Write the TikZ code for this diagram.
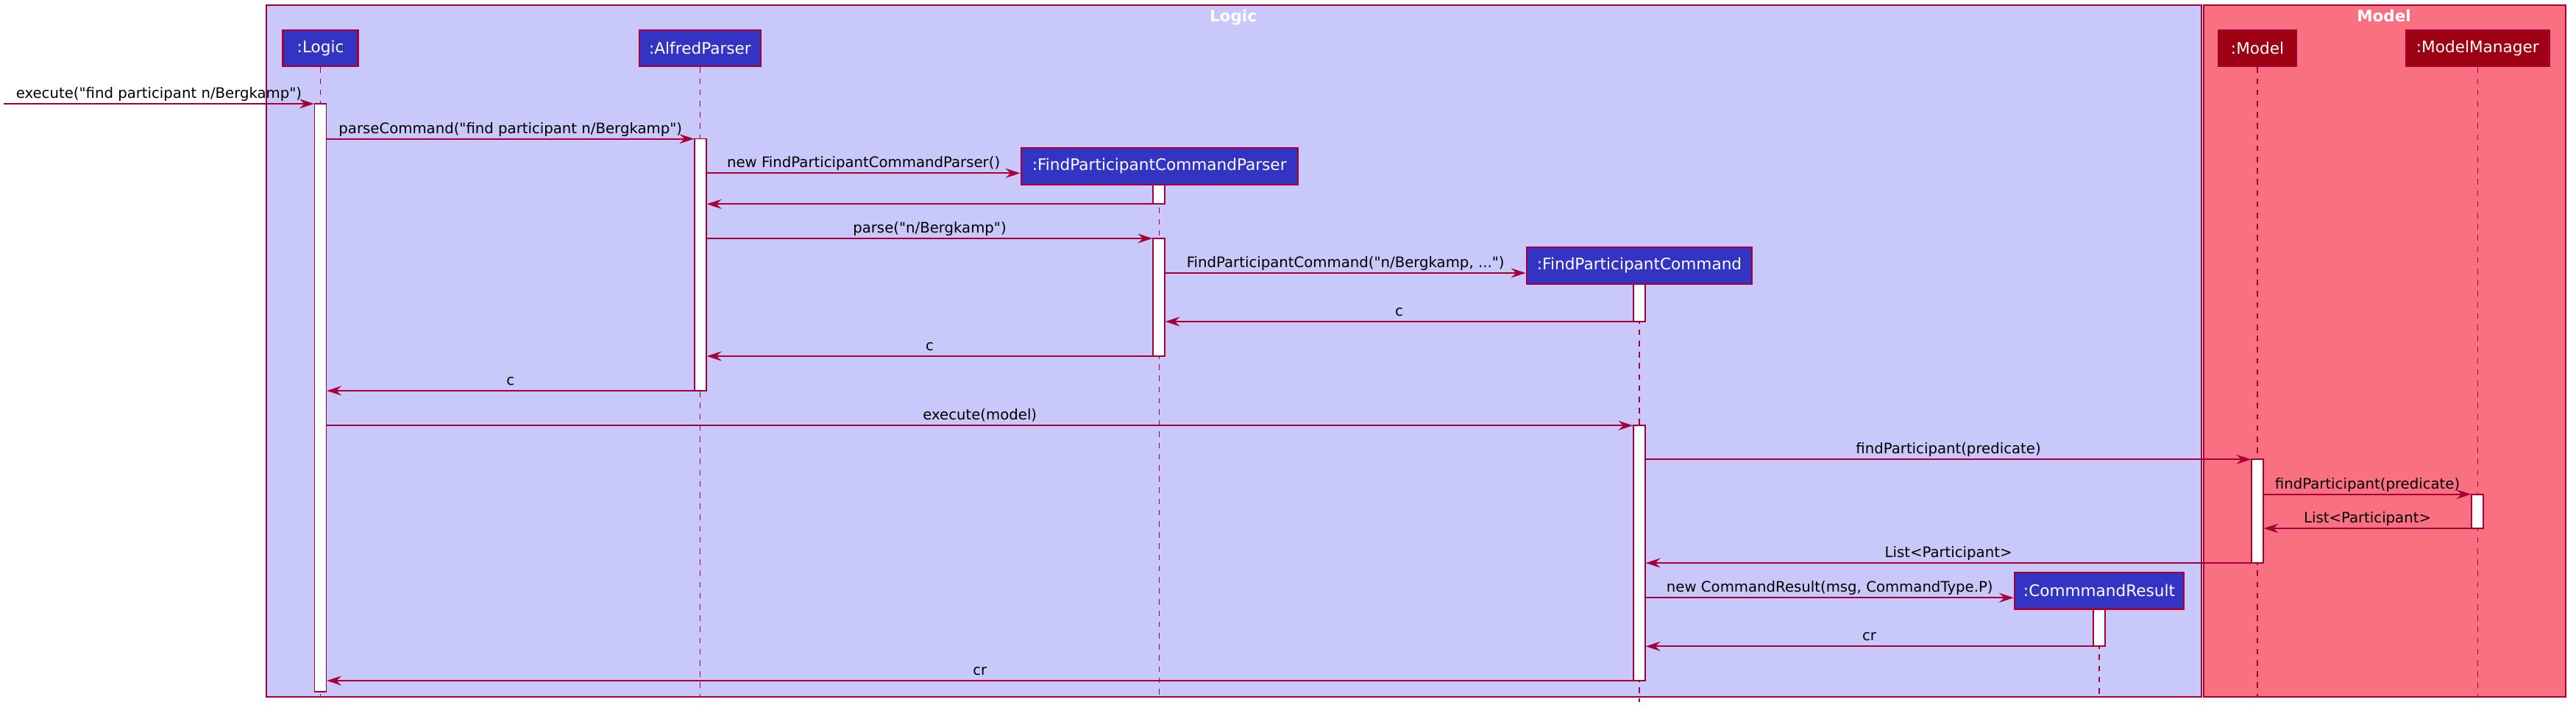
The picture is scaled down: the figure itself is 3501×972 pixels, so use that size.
\documentclass[tikz,border=0pt]{standalone}
\usepackage{fontspec}
\newfontfamily\dvs{DejaVu Sans}
\usetikzlibrary{arrows.meta}
\definecolor{crim}{HTML}{A80036}
\definecolor{logicc}{HTML}{3333C4}
\definecolor{logict}{HTML}{C8C8FA}
\definecolor{modelc}{HTML}{9D0012}
\definecolor{modelt}{HTML}{F97181}
\begin{document}
\begin{tikzpicture}[x=1pt,y=-1pt,
  grp/.style={draw=crim, line width=1.6pt},
  grptitle/.style={anchor=base, text=white, font=\dvs\fontsize{21.5}{24}\bfseries\selectfont},
  part/.style={draw=crim, line width=2.3pt, text=white, inner sep=0pt,
    minimum height=49.5pt, font=\dvs\fontsize{21.6}{24}\selectfont},
  lpart/.style={part, fill=logicc},
  mpart/.style={part, fill=modelc},
  life/.style={draw=crim, line width=1.5pt, dash pattern=on 7.6pt off 7.6pt},
  actbar/.style={draw=crim, fill=white, line width=1.3pt, minimum width=16pt, inner sep=0pt},
  msg/.style={draw=crim, line width=2pt, -{Stealth[length=20pt, width=13pt, inset=7pt]}},
  lbl/.style={anchor=base, yshift=7.5pt, text=black, font=\dvs\fontsize{19.7}{22}\selectfont, inner sep=0pt}
]
\useasboundingbox[fill=white] (0,0) rectangle (3501,972);

% groups
\node[grp, fill=logict, minimum width=2630pt, minimum height=940pt, inner sep=0pt, anchor=north west] (gL) at (361,6) {};
\node[grp, fill=modelt, minimum width=492pt, minimum height=940pt, inner sep=0pt, anchor=north west] (gM) at (2994,6) {};
\node[grptitle] (tL) at (1676,29) {Logic};
\node[grptitle] (tM) at (3240,29) {Model};

% participants
\node[lpart, minimum width=102pt] (pL) at (435.6,65.5) {:Logic};
\node[lpart, minimum width=165pt] (pA) at (951.5,65.5) {:AlfredParser};
\node[lpart, minimum width=376pt] (pFP) at (1575.7,226) {:FindParticipantCommandParser};
\node[lpart, minimum width=306.5pt] (pFC) at (2228,361) {:FindParticipantCommand};
\node[lpart, minimum width=230pt] (pCR) at (2853,802.7) {:CommmandResult};
\node[mpart, minimum width=106pt] (pM) at (3068,65.5) {:Model};
\node[mpart, minimum width=194.6pt] (pMM) at (3367.3,65.5) {:ModelManager};

% lifelines
\coordinate (endL) at (0,946.7);
\draw[life] (pL.south) -- (pL.south |- endL);
\draw[life] (pA.south) -- (pA.south |- endL);
\draw[life] (pFP.south) -- (pFP.south |- endL);
\draw[life] (pFC.south) -- (pFC.south |- 0,954);
\draw[life] (pCR.south) -- (pCR.south |- endL);
\draw[life] (pM.south) -- (pM.south |- endL);
\draw[life] (pMM.south) -- (pMM.south |- endL);

% activation bars
\node[actbar, minimum height=799pt] (aL) at (435.5,540.5) {};
\node[actbar, minimum height=342.3pt] (aA) at (952,359.85) {};
\node[actbar, minimum height=26pt] (aFP1) at (1575,264) {};
\node[actbar, minimum height=160pt] (aFP2) at (1575,404) {};
\node[actbar, minimum height=51pt] (aFC1) at (2228,411.5) {};
\node[actbar, minimum height=347pt] (aFC2) at (2228,751.5) {};
\node[actbar, minimum height=141pt] (aM) at (3068,694.5) {};
\node[actbar, minimum height=46pt] (aMM) at (3367,695) {};
\node[actbar, minimum height=50pt] (aCR) at (2853,853) {};

% messages
\coordinate (src) at (5,141);
\draw[msg] (src) -- node[lbl] {execute("find participant n/Bergkamp")} (aL.west |- src);
\draw[msg] (aL.east |- 0,188.7) -- node[lbl] {parseCommand("find participant n/Bergkamp")} (aA.west |- 0,188.7);
\draw[msg] (aA.east |- 0,235.3) -- node[lbl] {new FindParticipantCommandParser()} (pFP.west |- 0,235.3);
\draw[msg] (aFP1.west |- 0,277.3) -- (aA.east |- 0,277.3);
\draw[msg] (aA.east |- 0,324) -- node[lbl] {parse("n/Bergkamp")} (aFP2.west |- 0,324);
\draw[msg] (aFP2.east |- 0,371) -- node[lbl] {FindParticipantCommand("n/Bergkamp, ...")} (pFC.west |- 0,371);
\draw[msg] (aFC1.west |- 0,437) -- node[lbl] {c} (aFP2.east |- 0,437);
\draw[msg] (aFP2.west |- 0,484) -- node[lbl] {c} (aA.east |- 0,484);
\draw[msg] (aA.west |- 0,531) -- node[lbl] {c} (aL.east |- 0,531);
\draw[msg] (aL.east |- 0,578.3) -- node[lbl] {execute(model)} (aFC2.west |- 0,578.3);
\draw[msg] (aFC2.east |- 0,624.3) -- node[lbl] {findParticipant(predicate)} (aM.west |- 0,624.3);
\draw[msg] (aM.east |- 0,671.7) -- node[lbl] {findParticipant(predicate)} (aMM.west |- 0,671.7);
\draw[msg] (aMM.west |- 0,718) -- node[lbl] {List<Participant>} (aM.east |- 0,718);
\draw[msg] (aM.west |- 0,765) -- node[lbl] {List<Participant>} (aFC2.east |- 0,765);
\draw[msg] (aFC2.east |- 0,812.3) -- node[lbl] {new CommandResult(msg, CommandType.P)} (pCR.west |- 0,812.3);
\draw[msg] (aCR.west |- 0,878.3) -- node[lbl] {cr} (aFC2.east |- 0,878.3);
\draw[msg] (aFC2.west |- 0,925) -- node[lbl] {cr} (aL.east |- 0,925);
\end{tikzpicture}
\end{document}
